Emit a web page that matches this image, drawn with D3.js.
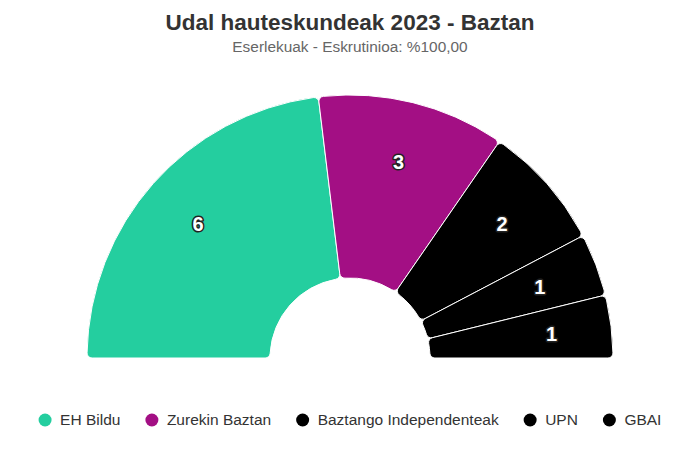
<!DOCTYPE html>
<html><head><meta charset="utf-8">
<script src="https://cdn.jsdelivr.net/npm/d3@7"></script>
<style>body{margin:0;background:#fff}svg{display:block;font-family:"Liberation Sans",Arial,sans-serif}</style>
</head><body><svg id="c" width="700" height="467"></svg>
<script>
const title = "Udal hauteskundeak 2023 - Baztan";
const subtitle = "Eserlekuak - Eskrutinioa: %100,00";
const parties = ["EH Bildu","Zurekin Baztan","Baztango Independenteak","UPN","GBAI"];
const seats = [6,3,2,1,1];
const colors = ["#24ce9f","#a30f84","#000000","#000000","#000000"];

const svg = d3.select("#c");
const W = 700, cx = 350, cy = 358, R = 263, r0 = 80;

svg.append("text").attr("x",W/2).attr("y",30).attr("text-anchor","middle")
  .attr("font-size",22.5).attr("font-weight","bold").attr("fill","#333").text(title);
svg.append("text").attr("x",W/2).attr("y",52).attr("text-anchor","middle")
  .attr("font-size",15.4).attr("fill","#666").text(subtitle);

const data = parties.map((p,i)=>({name:p,value:seats[i],color:colors[i]}));
const pie = d3.pie().value(d=>d.value).sort(null).startAngle(-Math.PI/2).endAngle(Math.PI/2);
const arcs = pie(data);
const arc = d3.arc().innerRadius(r0).outerRadius(R).cornerRadius(5);
const labelArc = d3.arc().innerRadius(203).outerRadius(203);

const g = svg.append("g").attr("transform",`translate(${cx},${cy})`);
g.selectAll("path").data(arcs).join("path")
  .attr("d",arc).attr("fill",d=>d.data.color)
  .attr("stroke","#fff").attr("stroke-width",1).attr("stroke-linejoin","round");

g.selectAll("text.lbl").data(arcs).join("text").attr("class","lbl")
  .attr("transform",d=>`translate(${labelArc.centroid(d)})`)
  .attr("text-anchor","middle").attr("dy","0.38em")
  .attr("font-size",20).attr("font-weight","bold")
  .attr("fill","#fff").attr("stroke","#222").attr("stroke-width",3)
  .attr("paint-order","stroke").attr("stroke-linejoin","round")
  .text(d=>d.data.value);

// legend
const lg = svg.append("g");
const fs = 15.5, symR = 6.5, txtOff = 15, gap = 25, ly = 420;
const items = lg.selectAll("g").data(data).join("g");
items.append("circle").attr("r",symR).attr("cy",0).attr("fill",d=>d.color);
items.append("text").attr("x",txtOff).attr("dy","0.35em").attr("font-size",fs)
  .attr("fill","#333").text(d=>d.name);
let x = 0; const pos = [];
items.each(function(){
  const w = this.querySelector("text").getComputedTextLength();
  pos.push(x); x += symR + txtOff + w + gap;
});
const total = x - gap;
const start = W/2 - total/2 + symR;
items.attr("transform",(d,i)=>`translate(${start+pos[i]},${ly})`);
</script></body></html>
